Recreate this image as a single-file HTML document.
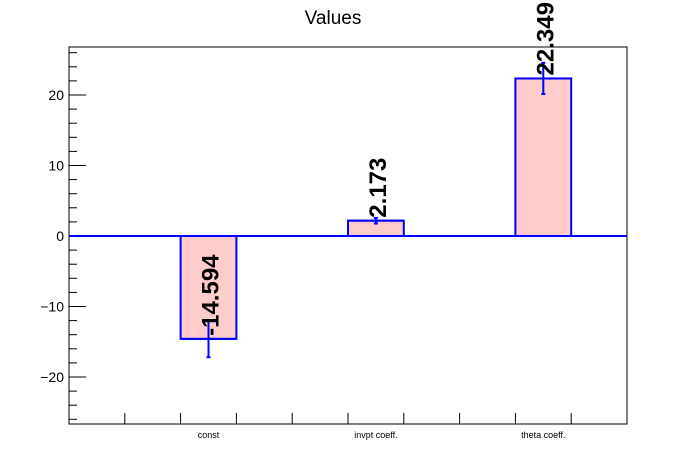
<!DOCTYPE html>
<html><head><meta charset="utf-8"><style>
html,body{margin:0;padding:0;background:#fff;}
svg{display:block;font-family:"Liberation Sans",Arial,sans-serif;}
</style></head><body>
<svg id="c" width="696" height="472">
<text x="333" y="24" font-size="19" text-anchor="middle">Values</text>
<g id="g"></g>
</svg>
<script>
const categories = ["const", "invpt coeff.", "theta coeff."];
const values = [-14.594, 2.173, 22.349];
const errors = [2.6, 0.4, 2.2];
const valueLabels = ["-14.594", "2.173", "22.349"];
const yTicks = [-20, -10, 0, 10, 20];

const L=69, R=627, T=47, B=424;
const y0px=236, pxPerUnit=7.05;
function yS(v){return y0px - v*pxPerUnit;}
const xUnit=(R-L)/10;
function xS(u){return L+u*xUnit;}
function catCenter(i){return xS(2.5+3*i);}

const NS="http://www.w3.org/2000/svg";
const g=document.getElementById('g');
function mk(t,a,p){const e=document.createElementNS(NS,t);for(const k in a)e.setAttribute(k,a[k]);(p||g).appendChild(e);return e;}

let f=mk('rect',{x:L,y:T,width:R-L,height:B-T,fill:'none',stroke:'#000','stroke-width':1});



for(let v=-26;v<=26;v+=2){
  const major = v%10===0;
  const t=mk('line',{x1:L,x2:L+(major?17:8),y1:yS(v),y2:yS(v),stroke:'#000','stroke-width':1});
  
  
}
yTicks.forEach(v=>{
  const t=mk('text',{x:L-5,y:yS(v)+5,'font-size':14,'text-anchor':'end'});
  t.textContent=(v<0?'\u2212'+Math.abs(v):String(v));
  
  
});
for(let u=1;u<10;u++){
  const t=mk('line',{x1:xS(u),x2:xS(u),y1:B,y2:B-11,stroke:'#000','stroke-width':1});
  
  
}
categories.forEach((c,i)=>{
  const t=mk('text',{x:catCenter(i),y:438,'font-size':9,'text-anchor':'middle'});
  t.textContent=c;
  
  
});
values.forEach((v,i)=>{
  const cx=catCenter(i), hw=xUnit/2;
  const top=Math.min(yS(v),yS(0)), h=Math.abs(yS(v)-yS(0));
  const b=mk('rect',{x:cx-hw,y:top,width:2*hw,height:h,fill:'#ffcccc',stroke:'#0000ff','stroke-width':2});
  
  
  const e=errors[i];
  const el=mk('path',{d:`M${cx},${yS(v-e)}V${yS(v+e)}M${cx-2},${yS(v-e)}H${cx+2}M${cx-2},${yS(v+e)}H${cx+2}M${cx-hw},${yS(v)}H${cx+hw}`,stroke:'#0000ff','stroke-width':2,fill:'none'});
  
  
});
const z=mk('line',{x1:L,x2:R,y1:yS(0),y2:yS(0),stroke:'#0000ff','stroke-width':2});


values.forEach((v,i)=>{
  const x=catCenter(i)+10, y=yS(v)-3;
  const t=mk('text',{x:x,y:y,'font-size':24,'font-weight':'bold','transform':`rotate(-90 ${x} ${y})`});
  t.textContent=valueLabels[i];
  
  
});
</script>
</body></html>
